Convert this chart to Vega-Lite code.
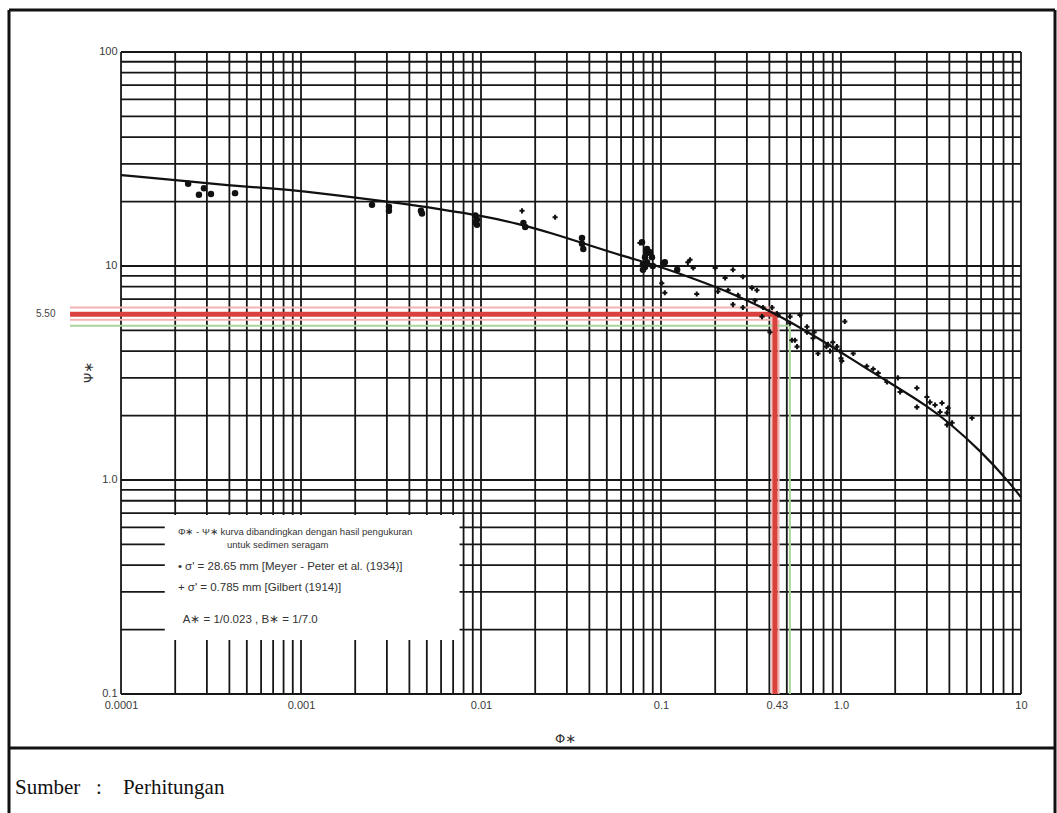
{
  "$schema": "https://vega.github.io/schema/vega-lite/v6.json",
  "width": 1046,
  "height": 803,
  "autosize": {"type": "none"},
  "padding": {"left": 9, "top": 10, "right": 2, "bottom": 0},
  "background": "white",
  "config": {
    "view": {"stroke": null},
    "axis": {"grid": false, "ticks": false, "domain": false, "labelFont": "Liberation Sans", "labelFontSize": 11, "labelColor": "#3a3a3a", "labelOverlap": false, "labelFlush": false, "labelBound": false, "titleFont": "DejaVu Sans", "titleFontSize": 13, "titleFontWeight": "normal", "titleColor": "#333"}
  },
  "datasets": {
    "vgrid": [{"v":0.0001},{"v":0.0002},{"v":0.0003},{"v":0.0004},{"v":0.0005},{"v":0.0006},{"v":0.0007},{"v":0.0008},{"v":0.0009},
      {"v":0.001},{"v":0.002},{"v":0.003},{"v":0.004},{"v":0.005},{"v":0.006},{"v":0.007},{"v":0.008},{"v":0.009},
      {"v":0.01},{"v":0.02},{"v":0.03},{"v":0.04},{"v":0.05},{"v":0.06},{"v":0.07},{"v":0.08},{"v":0.09},
      {"v":0.1},{"v":0.2},{"v":0.3},{"v":0.4},{"v":0.5},{"v":0.6},{"v":0.7},{"v":0.8},{"v":0.9},
      {"v":1},{"v":2},{"v":3},{"v":4},{"v":5},{"v":6},{"v":7},{"v":8},{"v":9},{"v":10}],
    "hgrid": [{"v":0.1},{"v":0.2},{"v":0.3},{"v":0.4},{"v":0.5},{"v":0.6},{"v":0.7},{"v":0.8},{"v":0.9},
      {"v":1},{"v":2},{"v":3},{"v":4},{"v":5},{"v":6},{"v":7},{"v":8},{"v":9},
      {"v":10},{"v":20},{"v":30},{"v":40},{"v":50},{"v":60},{"v":70},{"v":80},{"v":90},{"v":100}],
    "curve": [{"phi":0.0001,"psi":26.6},{"phi":0.0002,"psi":25.2},{"phi":0.0004,"psi":23.8},{"phi":0.0007,"psi":23.0},{"phi":0.001,"psi":22.4},{"phi":0.002,"psi":20.9},{"phi":0.0035,"psi":19.7},{"phi":0.006,"psi":18.4},{"phi":0.01,"psi":17.2},{"phi":0.016,"psi":15.8},{"phi":0.025,"psi":14.2},{"phi":0.04,"psi":12.5},{"phi":0.06,"psi":11.2},{"phi":0.1,"psi":9.9},{"phi":0.145,"psi":8.85},{"phi":0.25,"psi":7.45},{"phi":0.44,"psi":5.95},{"phi":0.7,"psi":4.75},{"phi":1.0,"psi":3.95},{"phi":1.4,"psi":3.3},{"phi":2.0,"psi":2.75},{"phi":3.0,"psi":2.22},{"phi":4.0,"psi":1.85},{"phi":6.0,"psi":1.36},{"phi":8.4,"psi":1.0},{"phi":10,"psi":0.83}],
    "pts": [
      {"phi":0.000236,"psi":24.2,"s":"MP"},{"phi":0.000271,"psi":21.5,"s":"MP"},{"phi":0.000289,"psi":23.1,"s":"MP"},{"phi":0.000316,"psi":21.7,"s":"MP"},{"phi":0.00043,"psi":21.9,"s":"MP"},
      {"phi":0.00248,"psi":19.3,"s":"MP"},{"phi":0.00308,"psi":18.9,"s":"MP"},{"phi":0.00308,"psi":18.1,"s":"MP"},{"phi":0.00464,"psi":18.1,"s":"MP"},{"phi":0.0047,"psi":17.6,"s":"MP"},
      {"phi":0.0093,"psi":17.2,"s":"MP"},{"phi":0.0095,"psi":16.5,"s":"MP"},{"phi":0.0095,"psi":15.6,"s":"MP"},{"phi":0.0093,"psi":16.0,"s":"MP"},
      {"phi":0.0176,"psi":15.2,"s":"MP"},{"phi":0.0172,"psi":15.9,"s":"MP"},
      {"phi":0.0364,"psi":13.5,"s":"MP"},{"phi":0.0364,"psi":12.7,"s":"MP"},{"phi":0.037,"psi":12.0,"s":"MP"},
      {"phi":0.0784,"psi":12.9,"s":"MP"},{"phi":0.0815,"psi":11.0,"s":"MP"},{"phi":0.0815,"psi":9.9,"s":"MP"},{"phi":0.0869,"psi":11.6,"s":"MP"},{"phi":0.0836,"psi":11.5,"s":"MP"},{"phi":0.0836,"psi":10.4,"s":"MP"},{"phi":0.0794,"psi":10.2,"s":"MP"},{"phi":0.0891,"psi":11.0,"s":"MP"},{"phi":0.0794,"psi":9.6,"s":"MP"},{"phi":0.09,"psi":10.0,"s":"MP"},{"phi":0.0836,"psi":12.0,"s":"MP"},{"phi":0.105,"psi":10.4,"s":"MP"},{"phi":0.103,"psi":10.3,"s":"MP"},{"phi":0.123,"psi":9.6,"s":"MP"},
      {"phi":0.0169,"psi":18.1,"s":"G"},{"phi":0.0258,"psi":16.9,"s":"G"},{"phi":0.0764,"psi":12.8,"s":"G"},
      {"phi":0.141,"psi":10.4,"s":"G"},{"phi":0.145,"psi":10.7,"s":"G"},{"phi":0.151,"psi":9.8,"s":"G"},{"phi":0.101,"psi":8.3,"s":"G"},{"phi":0.105,"psi":7.5,"s":"G"},{"phi":0.158,"psi":7.4,"s":"G"},
      {"phi":0.2,"psi":9.8,"s":"G"},{"phi":0.227,"psi":8.8,"s":"G"},{"phi":0.251,"psi":9.6,"s":"G"},{"phi":0.285,"psi":8.9,"s":"G"},{"phi":0.207,"psi":7.6,"s":"G"},{"phi":0.236,"psi":7.7,"s":"G"},{"phi":0.268,"psi":7.3,"s":"G"},
      {"phi":0.251,"psi":6.6,"s":"G"},{"phi":0.285,"psi":6.4,"s":"G"},{"phi":0.32,"psi":7.9,"s":"G"},{"phi":0.333,"psi":6.9,"s":"G"},{"phi":0.341,"psi":7.7,"s":"G"},{"phi":0.369,"psi":6.4,"s":"G"},{"phi":0.414,"psi":6.4,"s":"G"},{"phi":0.447,"psi":5.9,"s":"G"},{"phi":0.364,"psi":5.8,"s":"G"},{"phi":0.403,"psi":4.9,"s":"G"},{"phi":0.44,"psi":6.0,"s":"G"},
      {"phi":0.521,"psi":5.4,"s":"G"},{"phi":0.521,"psi":5.8,"s":"G"},{"phi":0.592,"psi":5.9,"s":"G"},{"phi":0.534,"psi":4.5,"s":"G"},{"phi":0.555,"psi":4.5,"s":"G"},{"phi":0.57,"psi":4.2,"s":"G"},{"phi":0.647,"psi":5.2,"s":"G"},{"phi":0.647,"psi":4.9,"s":"G"},{"phi":0.71,"psi":4.9,"s":"G"},{"phi":0.699,"psi":4.6,"s":"G"},{"phi":0.745,"psi":3.9,"s":"G"},
      {"phi":0.83,"psi":4.2,"s":"G"},{"phi":0.847,"psi":4.3,"s":"G"},{"phi":0.9,"psi":4.4,"s":"G"},{"phi":0.869,"psi":4.0,"s":"G"},{"phi":0.95,"psi":4.2,"s":"G"},{"phi":0.99,"psi":4.0,"s":"G"},{"phi":1.01,"psi":3.6,"s":"G"},{"phi":1.0,"psi":3.7,"s":"G"},{"phi":1.05,"psi":5.5,"s":"G"},
      {"phi":1.17,"psi":3.9,"s":"G"},{"phi":1.39,"psi":3.4,"s":"G"},{"phi":1.51,"psi":3.3,"s":"G"},{"phi":1.61,"psi":3.16,"s":"G"},{"phi":1.8,"psi":2.87,"s":"G"},{"phi":2.07,"psi":3.0,"s":"G"},{"phi":2.13,"psi":2.58,"s":"G"},
      {"phi":2.64,"psi":2.19,"s":"G"},{"phi":2.64,"psi":2.69,"s":"G"},{"phi":3.0,"psi":2.44,"s":"G"},{"phi":3.12,"psi":2.31,"s":"G"},{"phi":3.33,"psi":2.24,"s":"G"},{"phi":3.64,"psi":2.29,"s":"G"},{"phi":3.55,"psi":2.08,"s":"G"},{"phi":3.88,"psi":2.06,"s":"G"},{"phi":3.93,"psi":2.17,"s":"G"},{"phi":4.14,"psi":1.85,"s":"G"},{"phi":3.88,"psi":1.81,"s":"G"},{"phi":5.34,"psi":1.95,"s":"G"}
    ],
    "legendbox": [{"x1":0.000175,"x2":0.0076,"y1":0.179,"y2":0.686}],
    "guides": [
      {"x1":0.0000521,"x2":0.41,"y1":6.4,"y2":6.4,"k":"pink"},
      {"x1":0.0000521,"x2":0.41,"y1":5.6,"y2":5.6,"k":"pink"},
      {"x1":0.0000521,"x2":0.52,"y1":5.25,"y2":5.25,"k":"green"},
      {"x1":0.415,"x2":0.415,"y1":6.4,"y2":0.1,"k":"pink"},
      {"x1":0.45,"x2":0.45,"y1":5.6,"y2":0.1,"k":"pink"},
      {"x1":0.52,"x2":0.52,"y1":5.25,"y2":0.1,"k":"green"},
      {"x1":0.0000521,"x2":0.445,"y1":5.95,"y2":5.95,"k":"red"},
      {"x1":0.43,"x2":0.43,"y1":5.95,"y2":0.1,"k":"red"}
    ],
    "legendtext": [
      {"lx":0.000207,"ly":0.571,"t":"Φ∗ - Ψ∗  kurva dibandingkan dengan hasil pengukuran","k":"small"},
      {"lx":0.000388,"ly":0.497,"t":"untuk sedimen seragam","k":"small"},
      {"lx":0.000207,"ly":0.392,"t":"•  σ' = 28.65 mm [Meyer - Peter et al. (1934)]","k":"big"},
      {"lx":0.000207,"ly":0.313,"t":"+  σ' = 0.785 mm [Gilbert (1914)]","k":"big"},
      {"lx":0.00022,"ly":0.222,"t":"A∗ = 1/0.023 ,   B∗ = 1/7.0","k":"big"}
    ],
    "frame": [
      {"x1":0.00002386,"x2":0.00002386,"y1":0.02779,"y2":157.1},
      {"x1":15.45,"x2":15.45,"y1":0.02779,"y2":157.1},
      {"x1":0.00002386,"x2":15.45,"y1":157.1,"y2":157.1},
      {"x1":0.00002386,"x2":15.45,"y1":0.05593,"y2":0.05593}
    ],
    "notes": [
      {"nx":0.0000337,"ny":5.95,"t":"5.50","k":"axis"},
      {"nx":0.00002576,"ny":0.03636,"t":"Sumber\u00a0\u00a0\u00a0:\u00a0\u00a0\u00a0\u00a0Perhitungan","k":"caption"}
    ]
  },
  "layer": [
    {
      "data": {"name": "vgrid"},
      "mark": {"type": "rule", "stroke": "#161616", "strokeWidth": 1.8},
      "encoding": {
        "x": {"field": "v", "type": "quantitative", "title": "Φ∗",
          "scale": {"type": "log", "domain": [0.00002386, 15.45], "nice": false},
          "axis": {"orient": "bottom", "offset": -119, "values": [0.0001, 0.001, 0.01, 0.1, 0.44, 1, 10],
            "labelExpr": "datum.value < 0.0005 ? '0.0001' : datum.value < 0.005 ? '0.001' : datum.value < 0.05 ? '0.01' : datum.value < 0.2 ? '0.1' : datum.value < 0.9 ? '0.43' : datum.value < 5 ? '1.0' : '10'",
            "labelPadding": 5, "titleX": 556, "titleY": 44, "titleBaseline": "middle", "titleAngle": 0}},
        "y": {"datum": 0.1, "type": "quantitative", "title": "Ψ∗",
          "scale": {"type": "log", "domain": [0.02779, 157.1], "nice": false},
          "axis": {"orient": "left", "offset": -112, "values": [0.1, 1, 10, 100],
            "labelExpr": "datum.value < 0.5 ? '0.1' : datum.value < 5 ? '1.0' : datum.value < 50 ? '10' : '100'",
            "labelPadding": 4, "titleX": -33, "titleY": 362, "titleAngle": -90, "titleBaseline": "middle"}},
        "y2": {"datum": 100}
      }
    },
    {
      "data": {"name": "hgrid"},
      "mark": {"type": "rule", "stroke": "#161616", "strokeWidth": 1.8},
      "encoding": {
        "y": {"field": "v", "type": "quantitative", "title": "Ψ∗"},
        "x": {"datum": 0.0001, "type": "quantitative", "title": "Φ∗"},
        "x2": {"datum": 10}
      }
    },
    {
      "data": {"name": "legendbox"},
      "mark": {"type": "rect", "fill": "white"},
      "encoding": {
        "x": {"field": "x1", "type": "quantitative", "title": "Φ∗"},
        "x2": {"field": "x2"},
        "y": {"field": "y1", "type": "quantitative", "title": "Ψ∗"},
        "y2": {"field": "y2"}
      }
    },
    {
      "data": {"name": "guides"},
      "transform": [{"filter": "datum.k == 'pink'"}],
      "mark": {"type": "rule", "stroke": "#f3b3b0", "strokeWidth": 2},
      "encoding": {
        "x": {"field": "x1", "type": "quantitative", "title": "Φ∗"},
        "x2": {"field": "x2"},
        "y": {"field": "y1", "type": "quantitative", "title": "Ψ∗"},
        "y2": {"field": "y2"}
      }
    },
    {
      "data": {"name": "guides"},
      "transform": [{"filter": "datum.k == 'green'"}],
      "mark": {"type": "rule", "stroke": "#a9d49a", "strokeWidth": 2},
      "encoding": {
        "x": {"field": "x1", "type": "quantitative", "title": "Φ∗"},
        "x2": {"field": "x2"},
        "y": {"field": "y1", "type": "quantitative", "title": "Ψ∗"},
        "y2": {"field": "y2"}
      }
    },
    {
      "data": {"name": "guides"},
      "transform": [{"filter": "datum.k == 'red'"}],
      "mark": {"type": "rule", "stroke": "#d9413d", "strokeWidth": 5},
      "encoding": {
        "x": {"field": "x1", "type": "quantitative", "title": "Φ∗"},
        "x2": {"field": "x2"},
        "y": {"field": "y1", "type": "quantitative", "title": "Ψ∗"},
        "y2": {"field": "y2"}
      }
    },
    {
      "data": {"name": "curve"},
      "mark": {"type": "line", "stroke": "#111", "strokeWidth": 2.2, "interpolate": "basis"},
      "encoding": {
        "x": {"field": "phi", "type": "quantitative", "title": "Φ∗"},
        "y": {"field": "psi", "type": "quantitative", "title": "Ψ∗"}
      }
    },
    {
      "data": {"name": "pts"},
      "transform": [{"filter": "datum.s == 'MP'"}],
      "mark": {"type": "point", "filled": true, "opacity": 1, "color": "#111", "shape": "circle", "size": 42},
      "encoding": {
        "x": {"field": "phi", "type": "quantitative", "title": "Φ∗"},
        "y": {"field": "psi", "type": "quantitative", "title": "Ψ∗"}
      }
    },
    {
      "data": {"name": "pts"},
      "transform": [{"filter": "datum.s == 'G'"}],
      "mark": {"type": "point", "filled": true, "opacity": 1, "color": "#111", "shape": "cross", "size": 26},
      "encoding": {
        "x": {"field": "phi", "type": "quantitative", "title": "Φ∗"},
        "y": {"field": "psi", "type": "quantitative", "title": "Ψ∗"}
      }
    },
    {
      "data": {"name": "legendtext"},
      "transform": [{"filter": "datum.k == 'small'"}],
      "mark": {"type": "text", "align": "left", "baseline": "middle", "font": "Liberation Sans", "fontSize": 9.5, "color": "#333"},
      "encoding": {
        "x": {"field": "lx", "type": "quantitative", "title": "Φ∗"},
        "y": {"field": "ly", "type": "quantitative", "title": "Ψ∗"},
        "text": {"field": "t"}
      }
    },
    {
      "data": {"name": "legendtext"},
      "transform": [{"filter": "datum.k == 'big'"}],
      "mark": {"type": "text", "align": "left", "baseline": "middle", "font": "Liberation Sans", "fontSize": 11.5, "color": "#333"},
      "encoding": {
        "x": {"field": "lx", "type": "quantitative", "title": "Φ∗"},
        "y": {"field": "ly", "type": "quantitative", "title": "Ψ∗"},
        "text": {"field": "t"}
      }
    },
    {
      "data": {"name": "frame"},
      "mark": {"type": "rule", "stroke": "#111", "strokeWidth": 3},
      "encoding": {
        "x": {"field": "x1", "type": "quantitative", "title": "Φ∗"},
        "x2": {"field": "x2"},
        "y": {"field": "y1", "type": "quantitative", "title": "Ψ∗"},
        "y2": {"field": "y2"}
      }
    },
    {
      "data": {"name": "notes"},
      "transform": [{"filter": "datum.k == 'axis'"}],
      "mark": {"type": "text", "align": "left", "baseline": "middle", "font": "Liberation Sans", "fontSize": 10, "color": "#444"},
      "encoding": {
        "x": {"field": "nx", "type": "quantitative", "title": "Φ∗"},
        "y": {"field": "ny", "type": "quantitative", "title": "Ψ∗"},
        "text": {"field": "t"}
      }
    },
    {
      "data": {"name": "notes"},
      "transform": [{"filter": "datum.k == 'caption'"}],
      "mark": {"type": "text", "align": "left", "baseline": "middle", "font": "Liberation Serif", "fontSize": 21, "color": "#111"},
      "encoding": {
        "x": {"field": "nx", "type": "quantitative", "title": "Φ∗"},
        "y": {"field": "ny", "type": "quantitative", "title": "Ψ∗"},
        "text": {"field": "t"}
      }
    }
  ]
}
